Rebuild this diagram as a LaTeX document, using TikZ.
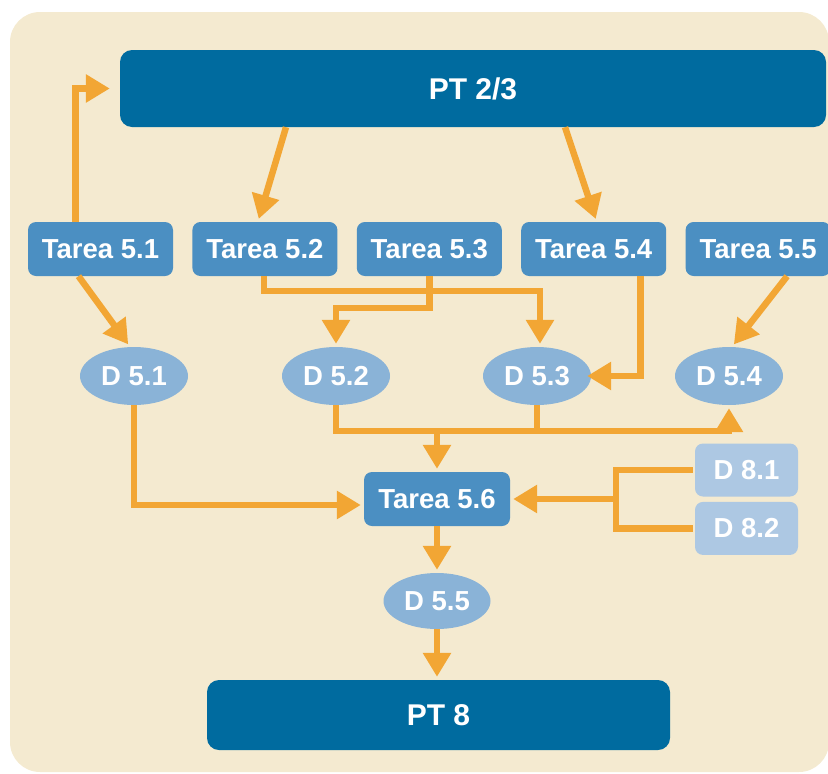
\documentclass[tikz,border=0pt]{standalone}
\usepackage{fontspec}
\setmainfont{Liberation Sans}
\usetikzlibrary{positioning,shapes.geometric,arrows.meta}

\definecolor{fondo}{HTML}{F4EAD0}
\definecolor{ptazul}{HTML}{006B9F}
\definecolor{tareazul}{HTML}{4B8FC2}
\definecolor{datazul}{HTML}{8AB3D7}
\definecolor{extazul}{HTML}{ADC8E3}
\definecolor{naranja}{HTML}{F2A634}

\tikzset{
  caja/.style={rectangle, rounded corners=8pt, text=white, inner sep=0pt,
    font=\fontsize{27.5}{30}\selectfont\bfseries},
  tarea/.style={caja, fill=tareazul, minimum width=145pt, minimum height=54pt},
  pt/.style={caja, fill=ptazul, rounded corners=12pt, font=\fontsize{30}{34}\selectfont\bfseries},
  dato/.style={ellipse, fill=datazul, text=white, inner sep=0pt,
    minimum width=108pt, minimum height=58pt, font=\fontsize{27.5}{30}\selectfont\bfseries},
  ext/.style={caja, fill=extazul, minimum width=103pt, minimum height=53pt},
  linea/.style={draw=naranja, line width=6.5pt},
  flujo/.style={linea, -{Triangle[width=27pt,length=24pt]}, shorten >=3pt}
}

\begin{document}
\begin{tikzpicture}[x=1pt, y=-1pt]
  \useasboundingbox (0,0) rectangle (828,774);
  \fill[fondo, rounded corners=30pt] (10,12) rectangle (829,772);

  \node[pt, minimum width=706pt, minimum height=77pt] (pt23) at (473,88.5) {PT 2/3};

  \node[tarea] (t51) at (100.5,249) {Tarea 5.1};
  \node[tarea, right=19pt of t51] (t52) {Tarea 5.2};
  \node[tarea, right=19pt of t52] (t53) {Tarea 5.3};
  \node[tarea, right=19pt of t53] (t54) {Tarea 5.4};
  \node[tarea, right=19pt of t54] (t55) {Tarea 5.5};

  \node[dato] (d51) at (134,376) {D 5.1};
  \node[dato] (d52) at (336,376) {D 5.2};
  \node[dato] (d53) at (537,376) {D 5.3};
  \node[dato] (d54) at (729,376) {D 5.4};

  \node[tarea, minimum width=146pt] (t56) at (437,499) {Tarea 5.6};
  \node[ext] (d81) at (746.5,470) {D 8.1};
  \node[ext, below=5pt of d81] (d82) {D 8.2};

  \node[dato, minimum width=107pt, minimum height=56pt] (d55) at (437,601) {D 5.5};
  \node[pt, minimum width=463pt, minimum height=70pt] (pt8) at (438.5,715) {PT 8};

  % PT 2/3 y tareas
  \draw[flujo, shorten >=10pt] ([xshift=-25pt]t51.north) |- (pt23.west);
  \draw[flujo] ([xshift=-187pt]pt23.south) -- ([xshift=-7pt]t52.north);
  \draw[flujo] ([xshift=92pt]pt23.south) -- ([xshift=3pt]t54.north);

  % tareas a datos
  \draw[flujo] ([xshift=-22pt]t51.south) -- ([xshift=-4pt]d51.north);
  \draw[flujo] ([xshift=29pt]t55.south) -- ([xshift=3pt]d54.north);
  \draw[flujo] ([xshift=-1pt]t52.south) -- ++(0,15) -| ([xshift=3pt]d53.north);
  \draw[flujo] (t53.south) -- ++(0,32) -| (d52.north);
  \draw[flujo, shorten >=-4pt] ([xshift=47pt]t54.south) |- (d53.east);

  % datos a Tarea 5.6
  \path (d52.south) ++(0,26) coordinate (bus);
  \draw[flujo] (d52.south) -- (bus) -| (d54.south);
  \draw[linea] (d53.south) -- (d53.south |- bus);
  \draw[flujo] (t56.north |- bus) -- (t56.north);
  \draw[flujo] (d51.south) |- ([yshift=-6pt]t56.west);

  \path (d81.west) ++(-79,0) coordinate (fork);
  \draw[linea, shorten <=2pt, shorten >=2pt] (d81.west) -- (fork) |- (d82.west);
  \draw[flujo] (fork |- t56.east) -- (t56.east);

  % salida
  \draw[flujo] (t56.south) -- (d55.north);
  \draw[flujo] (d55.south) -- (d55.south |- pt8.north);
\end{tikzpicture}
\end{document}
